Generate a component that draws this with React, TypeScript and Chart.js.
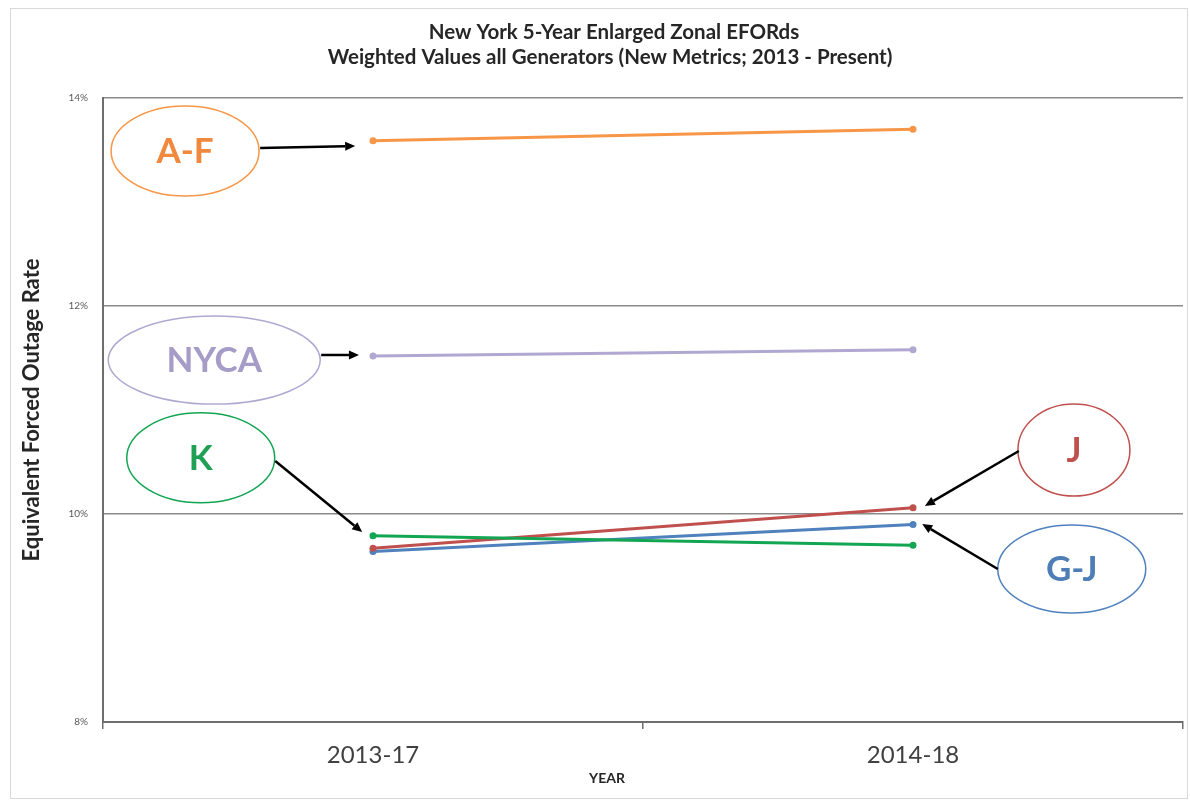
import React, { useEffect, useRef } from "react";
import { Chart, registerables } from "chart.js";

Chart.register(...registerables);

const categories = ["2013-17", "2014-18"];
const seriesNames = ["A-F", "NYCA", "K", "J", "G-J"];
const valuesAF = [13.59, 13.7];
const valuesNYCA = [11.52, 11.58];
const valuesK = [9.79, 9.7];
const valuesJ = [9.67, 10.06];
const valuesGJ = [9.64, 9.9];
const yTicks = [8, 10, 12, 14];
const titleLines = [
  "New York 5-Year Enlarged Zonal EFORds",
  "Weighted Values all Generators (New Metrics; 2013 - Present)",
];
const xAxisTitle = "YEAR";
const yAxisTitle = "Equivalent Forced Outage Rate";

const seriesColors = ["#F79646", "#B1A8D2", "#12A552", "#C0504D", "#4F81BD"];
const labelColors = ["#F0883E", "#A59CC8", "#1FA055", "#C0504D", "#4F7DB5"];

// annotation callouts, positioned in data space (category index, value)
const calloutCenters = [
  [-0.348, 13.49],
  [-0.294, 11.48],
  [-0.319, 10.54],
  [1.298, 10.615],
  [1.294, 9.471],
];
const calloutRadii = [
  [74, 45],
  [106, 44],
  [74, 45],
  [56, 46],
  [74, 44],
];
const arrowFrom = [
  [-0.209, 13.519],
  [-0.096, 11.529],
  [-0.181, 10.51],
  [1.196, 10.606],
  [1.157, 9.471],
];
const arrowTo = [
  [-0.033, 13.538],
  [-0.026, 11.529],
  [-0.02, 9.827],
  [1.022, 10.077],
  [1.017, 9.904],
];

const FONT = "Lato, 'Open Sans', sans-serif";

const framePlugin = {
  id: "frame",
  beforeDraw(chart: any) {
    const ctx = chart.ctx;
    ctx.save();
    ctx.fillStyle = "#ffffff";
    ctx.fillRect(0, 0, chart.width, chart.height);
    ctx.strokeStyle = "#d9d9d9";
    ctx.lineWidth = 1;
    ctx.strokeRect(10.5, 8.5, chart.width - 13, chart.height - 11);
    ctx.restore();
  },
  afterDraw(chart: any) {
    const ctx = chart.ctx;
    ctx.save();
    ctx.fillStyle = "#262626";
    ctx.textAlign = "center";
    ctx.textBaseline = "middle";
    ctx.font = `bold 20.5px ${FONT}`;
    ctx.fillText(titleLines[0], 614, 32);
    ctx.fillText(titleLines[1], 610, 57);
    ctx.font = `bold 14px ${FONT}`;
    ctx.fillText(xAxisTitle, 607, 778);
    ctx.restore();
  },
};

const calloutPlugin = {
  id: "callouts",
  afterDatasetsDraw(chart: any) {
    const ctx = chart.ctx;
    const xs = chart.scales.x;
    const ys = chart.scales.y;
    ctx.save();
    for (let i = 0; i < seriesNames.length; i++) {
      const cx = xs.getPixelForValue(calloutCenters[i][0]);
      const cy = ys.getPixelForValue(calloutCenters[i][1]);
      const [rx, ry] = calloutRadii[i];
      ctx.beginPath();
      ctx.ellipse(cx, cy, rx, ry, 0, 0, Math.PI * 2);
      ctx.strokeStyle = seriesColors[i];
      ctx.lineWidth = 1.5;
      ctx.stroke();
      ctx.fillStyle = labelColors[i];
      ctx.font = `bold 35px ${FONT}`;
      ctx.textAlign = "center";
      ctx.textBaseline = "middle";
      ctx.fillText(seriesNames[i], cx, cy + 1);

      const x1 = xs.getPixelForValue(arrowFrom[i][0]);
      const y1 = ys.getPixelForValue(arrowFrom[i][1]);
      const x2 = xs.getPixelForValue(arrowTo[i][0]);
      const y2 = ys.getPixelForValue(arrowTo[i][1]);
      const ang = Math.atan2(y2 - y1, x2 - x1);
      const head = 10;
      const bx = x2 - head * Math.cos(ang);
      const by = y2 - head * Math.sin(ang);
      ctx.strokeStyle = "#000000";
      ctx.lineWidth = 2.5;
      ctx.beginPath();
      ctx.moveTo(x1, y1);
      ctx.lineTo(bx, by);
      ctx.stroke();
      ctx.fillStyle = "#000000";
      ctx.beginPath();
      ctx.moveTo(x2, y2);
      ctx.lineTo(bx + 4.5 * Math.sin(ang), by - 4.5 * Math.cos(ang));
      ctx.lineTo(bx - 4.5 * Math.sin(ang), by + 4.5 * Math.cos(ang));
      ctx.closePath();
      ctx.fill();
    }
    ctx.restore();
  },
};

export default function App() {
  const ref = useRef<HTMLCanvasElement>(null);
  useEffect(() => {
    if (!ref.current) return;
    const allValues = [valuesAF, valuesNYCA, valuesK, valuesJ, valuesGJ];
    const chart = new Chart(ref.current, {
      type: "line",
      data: {
        labels: categories,
        datasets: seriesNames.map((name, i) => ({
          label: name,
          data: allValues[i],
          borderColor: seriesColors[i],
          backgroundColor: seriesColors[i],
          borderWidth: 3,
          pointRadius: 3.5,
          pointBorderWidth: 0,
          pointBackgroundColor: seriesColors[i],
          tension: 0,
          fill: false,
        })),
      },
      options: {
        responsive: false,
        animation: false,
        layout: { padding: { left: 0, right: 7, top: 98, bottom: 0 } },
        plugins: {
          legend: { display: false },
          tooltip: { enabled: false },
          title: { display: false },
        },
        scales: {
          x: {
            type: "category",
            offset: true,
            afterFit(scale: any) {
              scale.height = 79;
            },
            grid: {
              display: true,
              offset: true,
              drawOnChartArea: false,
              drawTicks: true,
              tickLength: 7,
              color: "#6e6e6e",
              lineWidth: 1.5,
            },
            border: { display: true, color: "#6e6e6e", width: 2 },
            ticks: {
              color: "#404040",
              font: { family: FONT, size: 24 },
              padding: 12,
              maxRotation: 0,
            },
          },
          y: {
            min: 8,
            max: 14,
            afterFit(scale: any) {
              scale.width = 103;
            },
            afterBuildTicks(scale: any) {
              scale.ticks = yTicks.map((v) => ({ value: v }));
            },
            grid: {
              color: "#8a8a8a",
              lineWidth: 1.5,
              drawTicks: false,
            },
            border: { display: true, color: "#6e6e6e", width: 2 },
            ticks: {
              color: "#595959",
              font: { family: FONT, size: 10 },
              padding: 15,
              callback: (v: any) => `${v}%`,
            },
            title: {
              display: true,
              text: yAxisTitle,
              color: "#262626",
              font: { family: FONT, size: 22, weight: "bold" },
              padding: { top: 19, bottom: 0 },
            },
          },
        },
      },
      plugins: [framePlugin, calloutPlugin],
    });
    return () => chart.destroy();
  }, []);
  return (
    <div style={{ position: "fixed", left: 0, top: 0, width: 1190, height: 801, background: "#fff" }}>
      <canvas ref={ref} width={1190} height={801} style={{ display: "block" }} />
    </div>
  );
}
